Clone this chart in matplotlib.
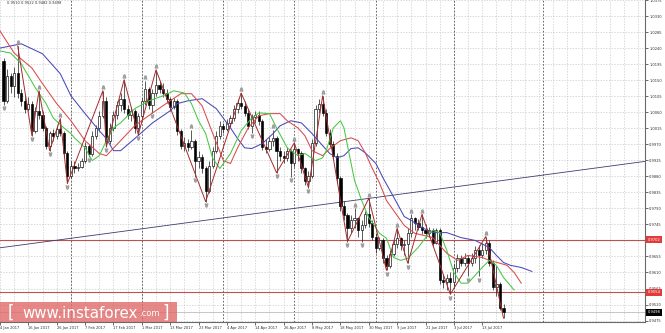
import matplotlib
matplotlib.use("Agg")
import matplotlib.pyplot as plt
import matplotlib.transforms as mtransforms
import pandas as pd
from matplotlib.patches import Rectangle

# USDCHF daily. bar 0 = Mon 2 Jan 2017, one bar per trading day
first_bar = 3
first_open = 1.0204
closes = [
    1.0092, 1.0162, 1.0134, 1.0170, 1.0114, 1.0092, 1.0070, 1.0084, 1.0008, 1.0064,
    1.0053, 1.0016, 0.9966, 1.0002, 0.9994, 1.0014, 1.0002, 0.9946, 0.9882, 0.9910,
    0.9902, 0.9907, 0.9924, 0.9966, 0.9944, 0.9994, 1.0016, 1.0050, 1.0092, 0.9980,
    1.0016, 1.0053, 1.0081, 1.0098, 1.0070, 1.0053, 1.0064, 1.0016, 1.0050, 1.0092,
    1.0126, 1.0081, 1.0114, 1.0137, 1.0126, 1.0114, 1.0098, 1.0075, 1.0092, 1.0008,
    0.9966, 0.9974, 0.9963, 0.9980, 0.9924, 0.9935, 0.9902, 0.9840, 0.9910, 0.9952,
    0.9994, 1.0022, 1.0014, 1.0030, 1.0044, 1.0070, 1.0086, 1.0078, 1.0058, 1.0022,
    1.0047, 1.0053, 1.0036, 0.9963, 0.9958, 0.9980, 0.9988, 0.9952, 0.9938, 0.9932,
    0.9952, 0.9918, 0.9958, 0.9946, 0.9902, 0.9868, 0.9882, 0.9974, 1.0070, 1.0084,
    1.0058, 1.0002, 0.9972, 0.9938, 0.9876, 0.9798, 0.9770, 0.9734, 0.9756, 0.9762,
    0.9728, 0.9742, 0.9773, 0.9750, 0.9711, 0.9678, 0.9700, 0.9650, 0.9627, 0.9661,
    0.9689, 0.9706, 0.9686, 0.9689, 0.9722, 0.9762, 0.9750, 0.9739, 0.9728, 0.9720,
    0.9728, 0.9694, 0.9728, 0.9588, 0.9582, 0.9594, 0.9582, 0.9622, 0.9650, 0.9638,
    0.9650, 0.9638, 0.9650, 0.9672, 0.9658, 0.9672, 0.9692, 0.9638, 0.9568, 0.9577,
    0.9510, 0.9498,
]
highs = [
    1.0212, 1.0182, 1.0170, 1.0187, 1.0246, 1.0126, 1.0106, 1.0103, 1.0092, 1.0075,
    1.0120, 1.0064, 1.0022, 1.0008, 1.0014, 1.0025, 1.0042, 1.0008, 0.9952, 0.9924,
    0.9924, 0.9918, 0.9932, 0.9977, 0.9972, 1.0008, 1.0025, 1.0064, 1.0120, 1.0103,
    1.0030, 1.0064, 1.0092, 1.0114, 1.0151, 1.0081, 1.0075, 1.0070, 1.0058, 1.0100,
    1.0148, 1.0131, 1.0126, 1.0179, 1.0148, 1.0142, 1.0126, 1.0103, 1.0100, 1.0098,
    1.0014, 0.9991, 0.9986, 1.0011, 0.9986, 0.9952, 0.9944, 0.9910, 0.9924, 0.9963,
    1.0008, 1.0036, 1.0030, 1.0042, 1.0053, 1.0081, 1.0098, 1.0114, 1.0092, 1.0070,
    1.0056, 1.0064, 1.0064, 1.0042, 0.9986, 0.9991, 1.0011, 0.9994, 0.9963, 0.9952,
    0.9963, 0.9958, 0.9974, 0.9960, 0.9952, 0.9907, 0.9896, 0.9986, 1.0081, 1.0098,
    1.0106, 1.0070, 1.0014, 0.9980, 0.9946, 0.9882, 0.9812, 0.9778, 0.9770, 0.9790,
    0.9767, 0.9756, 0.9784, 0.9818, 0.9756, 0.9722, 0.9711, 0.9706, 0.9658, 0.9672,
    0.9700, 0.9734, 0.9711, 0.9700, 0.9734, 0.9773, 0.9767, 0.9759, 0.9773, 0.9745,
    0.9739, 0.9734, 0.9736, 0.9736, 0.9605, 0.9605, 0.9610, 0.9633, 0.9661, 0.9658,
    0.9666, 0.9658, 0.9666, 0.9683, 0.9686, 0.9694, 0.9711, 0.9700, 0.9645, 0.9627,
    0.9583, 0.9522,
]
lows = [
    1.0081, 1.0086, 1.0114, 1.0103, 1.0100, 1.0078, 1.0058, 1.0064, 0.9994, 1.0002,
    1.0042, 1.0008, 0.9958, 0.9952, 0.9980, 0.9986, 0.9994, 0.9935, 0.9860, 0.9874,
    0.9890, 0.9896, 0.9902, 0.9918, 0.9935, 0.9938, 0.9986, 1.0008, 1.0044, 0.9963,
    0.9972, 1.0008, 1.0042, 1.0064, 1.0058, 1.0042, 1.0036, 1.0002, 0.9997, 1.0042,
    1.0081, 1.0070, 1.0058, 1.0106, 1.0114, 1.0103, 1.0086, 1.0064, 1.0070, 0.9997,
    0.9958, 0.9952, 0.9952, 0.9958, 0.9879, 0.9902, 0.9890, 0.9809, 0.9834, 0.9902,
    0.9946, 0.9986, 1.0002, 1.0008, 1.0019, 1.0036, 1.0058, 1.0070, 1.0050, 1.0014,
    1.0002, 1.0030, 1.0025, 0.9955, 0.9946, 0.9952, 0.9966, 0.9890, 0.9924, 0.9918,
    0.9924, 0.9879, 0.9907, 0.9924, 0.9890, 0.9857, 0.9848, 0.9874, 0.9966, 1.0058,
    1.0050, 0.9994, 0.9963, 0.9930, 0.9862, 0.9784, 0.9756, 0.9697, 0.9722, 0.9734,
    0.9711, 0.9697, 0.9734, 0.9739, 0.9700, 0.9666, 0.9672, 0.9638, 0.9616, 0.9622,
    0.9655, 0.9678, 0.9672, 0.9658, 0.9636, 0.9711, 0.9728, 0.9728, 0.9717, 0.9706,
    0.9711, 0.9683, 0.9689, 0.9577, 0.9566, 0.9560, 0.9549, 0.9566, 0.9610, 0.9627,
    0.9627, 0.9599, 0.9627, 0.9638, 0.9599, 0.9650, 0.9661, 0.9627, 0.9560, 0.9543,
    0.9505, 0.9482,
]

# Bill Williams fractals (bar numbers)
up_fractals = [7, 13, 19, 31, 37, 43, 46, 56, 70, 79, 85, 93, 102, 106, 114, 118, 121, 139]
down_fractals = [3, 11, 16, 21, 27, 32, 41, 45, 57, 60, 73, 80, 84, 89, 100, 104, 111,
                 117, 129, 134, 137]
# zigzag turning bars, starting on a high
zigzag_bars = [7, 11, 13, 16, 19, 21, 31, 32, 37, 41, 46, 60, 70, 80, 85, 89, 93, 100,
               106, 111, 114, 117, 121, 129, 139, 144]

# alligator lines
jaw_bars = [2, 8, 14, 19, 22, 26, 30, 32, 34, 36, 40, 45, 50, 52, 55, 59, 63, 67, 69, 71,
            73, 76, 79, 81, 84, 87, 90, 93, 95, 97, 99, 101, 103, 105, 108, 110, 112, 114,
            116, 118, 121, 124, 128, 132, 136, 140, 142, 144, 146, 149, 152]
jaw = [1.0240, 1.0252, 1.0224, 1.0168, 1.0106, 1.0056, 1.0008, 0.9986, 0.9952, 0.9952,
       0.9986, 1.0030, 1.0064, 1.0084, 1.0092, 1.0098, 1.0070, 1.0016, 0.9986, 0.9960,
       0.9958, 0.9972, 1.0000, 1.0022, 1.0036, 1.0030, 1.0000, 0.9966, 0.9944, 0.9932,
       0.9938, 0.9958, 0.9960, 0.9946, 0.9916, 0.9876, 0.9840, 0.9804, 0.9767, 0.9756,
       0.9736, 0.9722, 0.9722, 0.9708, 0.9700, 0.9680, 0.9658, 0.9638, 0.9630, 0.9624,
       0.9613]
teeth_bars = [2, 6, 11, 14, 18, 22, 26, 30, 32, 36, 40, 45, 50, 53, 56, 59, 62, 65, 67, 69,
              72, 75, 78, 81, 83, 86, 88, 90, 93, 95, 98, 101, 103, 105, 107, 109, 111, 114,
              116, 119, 124, 128, 131, 134, 138, 140, 143, 145, 147, 149]
teeth = [1.0288, 1.0226, 1.0184, 1.0140, 1.0084, 1.0036, 0.9980, 0.9944, 0.9938, 0.9980,
         1.0022, 1.0058, 1.0092, 1.0112, 1.0112, 1.0078, 1.0000, 0.9924, 0.9916, 0.9960,
         1.0016, 1.0050, 1.0056, 1.0056, 1.0036, 1.0016, 0.9994, 0.9952, 0.9938, 0.9958,
         0.9980, 0.9988, 0.9980, 0.9946, 0.9902, 0.9862, 0.9812, 0.9770, 0.9742, 0.9720,
         0.9708, 0.9664, 0.9644, 0.9658, 0.9652, 0.9644, 0.9636, 0.9630, 0.9610, 0.9580]
lips_bars = [2, 5, 8, 12, 15, 17, 20, 22, 23, 26, 28, 30, 32, 34, 36, 40, 44, 48, 51, 54,
             56, 58, 60, 62, 64, 67, 70, 73, 75, 78, 80, 83, 86, 88, 91, 93, 94, 96, 98, 99,
             100, 102, 104, 106, 108, 109, 111, 113, 115, 117, 120, 123, 124, 126, 128, 130,
             132, 134, 136, 138, 140, 142, 144, 147]
lips = [1.0232, 1.0226, 1.0196, 1.0128, 1.0084, 1.0044, 1.0016, 1.0000, 0.9988, 0.9960,
        0.9924, 0.9938, 0.9980, 1.0016, 1.0030, 1.0070, 1.0092, 1.0106, 1.0120, 1.0114,
        1.0084, 1.0036, 1.0000, 0.9930, 0.9902, 0.9944, 1.0008, 1.0044, 1.0058, 1.0056,
        1.0016, 0.9960, 0.9938, 0.9944, 0.9924, 0.9932, 0.9952, 1.0016, 1.0036, 1.0016,
        0.9966, 0.9868, 0.9812, 0.9764, 0.9736, 0.9720, 0.9706, 0.9652, 0.9644, 0.9650,
        0.9681, 0.9720, 0.9728, 0.9722, 0.9672, 0.9610, 0.9580, 0.9580, 0.9602, 0.9624,
        0.9644, 0.9630, 0.9596, 0.9561]

red_levels = [0.9702, 0.9554]
bid = 0.9498
trend_p1 = (10, 0.9690)
trend_p2 = (130, 0.9850)
separators = [22, 42, 65, 85, 108, 130, 155]
price_ticks = [1.0375, 1.0330, 1.0285, 1.0240, 1.0195, 1.0150, 1.0105, 1.0060, 1.0015,
               0.9970, 0.9925, 0.9880, 0.9835, 0.9790, 0.9745, 0.9700, 0.9655, 0.9610,
               0.9565, 0.9520, 0.9475]
header = "0.9510 0.9522 0.9482 0.9498"


bars = list(range(first_bar, first_bar + len(closes)))
opens = [first_open] + closes[:-1]
dates = pd.bdate_range("2017-01-02", periods=bars[-1] + 1)

fig = plt.figure(figsize=(6.65, 3.33), dpi=100)
ax = fig.add_axes([0, 11 / 333, 645 / 665, 322 / 333])
ax.set_xlim(2.7, 183.9)
ax.set_ylim(0.9471, 1.0375)

# grid + month separators
label_bars = list(range(2, bars[-1], 8))
ax.set_xticks(label_bars)
ax.set_xticklabels(["%d %s" % (dates[b].day, dates[b].strftime("%b %Y")) for b in label_bars])
ax.set_xticks(range(2, 184, 4), minor=True)
ax.set_yticks(price_ticks)
# the 0.9700 label sits under the red level tag, as on the terminal
ax.set_yticklabels(["" if abs(p - 0.97) < 1e-9 else "%.4f" % p for p in price_ticks])
ax.grid(which="both", color="#c9c9c9", ls=(0, (2, 2)), lw=0.5)
ax.set_axisbelow(True)
for s in separators:
    ax.axvline(s, color="#505050", ls=(0, (2, 2)), lw=0.6, zorder=1)

ax.yaxis.tick_right()
ax.tick_params(axis="both", labelsize=2.6, length=2, width=0.5, pad=1, colors="#303030")
ax.tick_params(which="minor", length=0)
for lbl in ax.get_xticklabels():
    lbl.set_ha("left")
for side in ["top", "left"]:
    ax.spines[side].set_visible(False)
for side in ["right", "bottom"]:
    ax.spines[side].set_color("#6a6a6a")
    ax.spines[side].set_linewidth(0.8)

# levels
for lv in red_levels:
    ax.axhline(lv, color="#c0504d", lw=0.8, zorder=2)
ax.axhline(bid, color="#bdbdbd", lw=0.6, zorder=2)
ax.axline(trend_p1, trend_p2, color="#3d3d6e", lw=0.6, zorder=2)

# candles
ax.vlines(bars, lows, highs, colors="#1a1a1a", lw=0.5, zorder=3)
for x, o, c in zip(bars, opens, closes):
    bull = c >= o
    ax.bar(x, abs(c - o), bottom=min(o, c), width=0.62,
           color="white" if bull else "black", edgecolor="black", linewidth=0.45, zorder=4)

# alligator
ax.plot(jaw_bars, jaw, color="#4848b8", lw=0.75, zorder=5)
ax.plot(teeth_bars, teeth, color="#d94a4a", lw=0.75, zorder=5)
ax.plot(lips_bars, lips, color="#45c845", lw=0.75, zorder=5)

# zigzag
zz = [highs[b - first_bar] if k % 2 == 0 else lows[b - first_bar] for k, b in enumerate(zigzag_bars)]
ax.plot(zigzag_bars, zz, color="#a52a2a", lw=0.7, zorder=5)

# fractal arrows
up_tr = mtransforms.offset_copy(ax.transData, y=3.5, units="dots")
dn_tr = mtransforms.offset_copy(ax.transData, y=-3.5, units="dots")
ax.plot(up_fractals, [highs[b - first_bar] for b in up_fractals], ls="none",
        marker=r"$\wedge$", ms=2.2, color="#a0a0a0", transform=up_tr, zorder=6)
ax.plot(down_fractals, [lows[b - first_bar] for b in down_fractals], ls="none",
        marker=r"$\vee$", ms=2.2, color="#a0a0a0", transform=dn_tr, zorder=6)

# price labels on the right axis
blend = mtransforms.blended_transform_factory(ax.transAxes, ax.transData)
for lv in red_levels:
    ax.text(1.004, lv, "%.4f" % lv, transform=blend, fontsize=2.6, color="white",
            va="center", ha="left", clip_on=False, zorder=10,
            bbox=dict(boxstyle="square,pad=0.4", fc="#e23b3b", ec="none"))
ax.text(1.004, bid, "%.4f" % bid, transform=blend, fontsize=2.6, color="white",
        va="center", ha="left", clip_on=False, zorder=10,
        bbox=dict(boxstyle="square,pad=0.4", fc="black", ec="none"))

# header
fig.text(7 / 665, 1 - 3.5 / 333, header, fontsize=2.6, ha="left", va="center", color="#303030")

# watermark
fig.add_artist(Rectangle((0, 11 / 333), 177 / 665, 20 / 333, transform=fig.transFigure,
                         fc="#e06a6a", ec="none", alpha=0.8, zorder=20))
wy = 1 - 313 / 333
fig.text(8 / 665, wy, "[", fontsize=12, color="white", va="center", zorder=21)
fig.text(22 / 665, wy, "www.instaforex", fontsize=10.8, color="white", va="center", zorder=21)
fig.text(139 / 665, wy - 1 / 333, ".com", fontsize=6, color="white", va="center", zorder=21)
fig.text(162 / 665, wy, "]", fontsize=12, color="white", va="center", zorder=21)

fig.savefig("out.png", dpi=100)
